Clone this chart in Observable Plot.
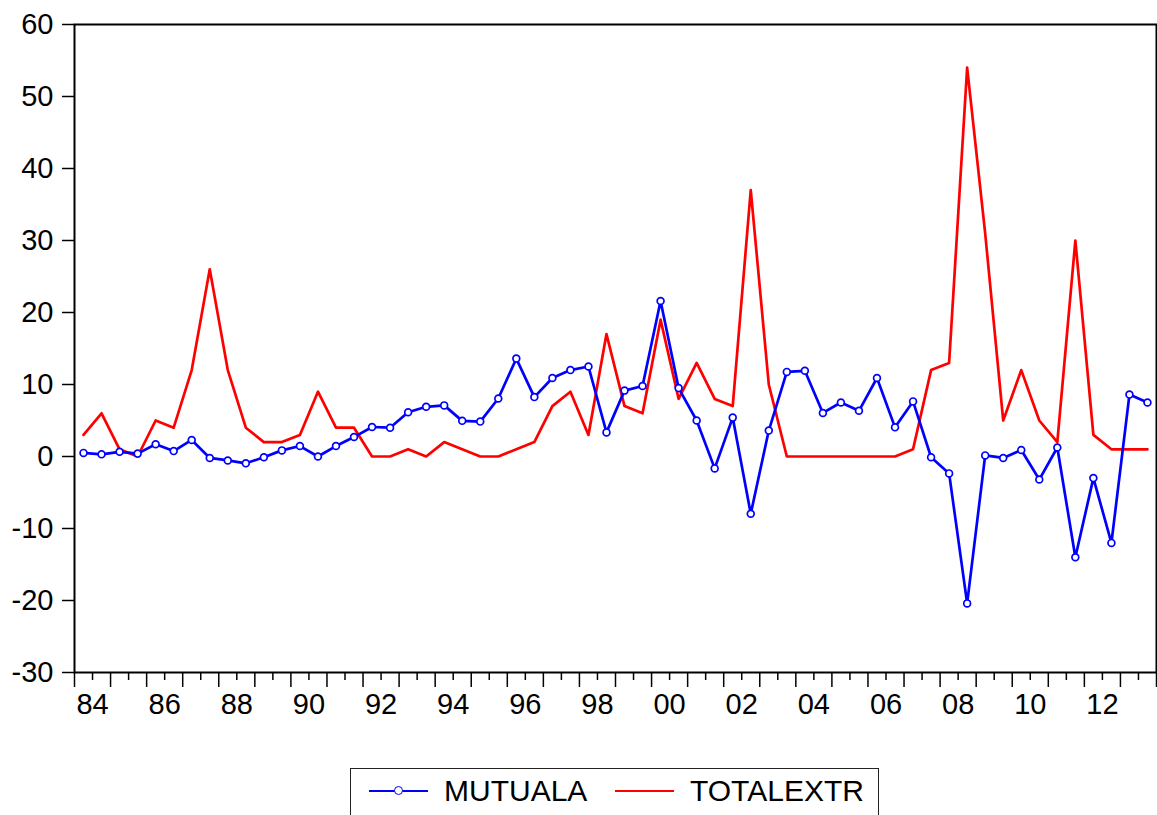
<!DOCTYPE html>
<html><head><meta charset="utf-8">
<script src="https://cdn.jsdelivr.net/npm/d3@7"></script>
<script src="https://cdn.jsdelivr.net/npm/@observablehq/plot@0.6"></script>
<style>
body{margin:0;background:#fff;font-family:"Liberation Sans",Arial,sans-serif;}
#wrap{position:relative;width:1157px;height:815px;overflow:hidden;background:#fff;}
#legend{position:absolute;left:350px;top:768px;width:529px;height:50px;border:1.5px solid #222;box-sizing:border-box;background:#fff;}
.sym{position:absolute;height:0;border-top:2.5px solid;top:21px;width:59px;}
.dotsym{position:absolute;width:7px;height:7px;border:1.6px solid #0000ff;border-radius:50%;background:#fff;top:17px;}
.lab{position:absolute;top:4px;font-size:30px;line-height:36px;color:#000;}
</style></head>
<body><div id="wrap"><div id="chart"></div>
<div id="legend">
  <div class="sym" style="left:18px;border-color:#0000ff"></div>
  <div class="dotsym" style="left:43px"></div>
  <div class="lab" style="left:93px">MUTUALA</div>
  <div class="sym" style="left:264px;border-color:#ff0000"></div>
  <div class="lab" style="left:339px">TOTALEXTR</div>
</div></div>
<script>
const periods = [
"1984S1","1984S2","1985S1","1985S2","1986S1","1986S2","1987S1","1987S2","1988S1","1988S2",
"1989S1","1989S2","1990S1","1990S2","1991S1","1991S2","1992S1","1992S2","1993S1","1993S2",
"1994S1","1994S2","1995S1","1995S2","1996S1","1996S2","1997S1","1997S2","1998S1","1998S2",
"1999S1","1999S2","2000S1","2000S2","2001S1","2001S2","2002S1","2002S2","2003S1","2003S2",
"2004S1","2004S2","2005S1","2005S2","2006S1","2006S2","2007S1","2007S2","2008S1","2008S2",
"2009S1","2009S2","2010S1","2010S2","2011S1","2011S2","2012S1","2012S2","2013S1","2013S2"];
const mutuala = [
0.5,0.3, 0.65,0.4, 1.7,0.75, 2.3,-0.2, -0.55,-0.95,
-0.1,0.85, 1.45,0, 1.45,2.7, 4.1,4.0, 6.15,6.9,
7.1,4.95, 4.85,8.05, 13.6,8.25, 10.9,12.0, 12.5,3.35,
9.15,9.8, 21.6,9.5, 5.0,-1.65, 5.4,-7.95, 3.6,11.75,
11.9,6.05, 7.5,6.35, 10.9,4.05, 7.65,-0.1, -2.35,-20.4,
0.15,-0.2, 0.9,-3.2, 1.25,-14.0, -3.0,-12.0, 8.6,7.5];
const totalextr = [
3,6, 1,0, 5,4, 12,26, 12,4,
2,2, 3,9, 4,4, 0,0, 1,0,
2,1, 0,0, 1,2, 7,9, 3,17,
7,6, 19,8, 13,8, 7,37, 10,0,
0,0, 0,0, 0,0, 1,12, 13,54,
31,5, 12,5, 2,30, 3,1, 1,1];
const yTicks = [-30,-20,-10,0,10,20,30,40,50,60];
const xLabelYears = [1984,1986,1988,1990,1992,1994,1996,1998,2000,2002,2004,2006,2008,2010,2012];
const xLabels = ["84","86","88","90","92","94","96","98","00","02","04","06","08","10","12"];

const toX = p => { const [y, h] = p.split("S"); return +y + (h === "1" ? 0.25 : 0.75); };
const rows = periods.map((p, i) => ({x: toX(p), m: mutuala[i], e: totalextr[i]}));
const yearTicks = d3.range(1984, 2015);
const halfTicks = d3.range(1984.5, 2014, 1);
const labelMap = new Map(xLabelYears.map((y, i) => [y + 0.5, xLabels[i]]));

const chart = Plot.plot({
  width: 1157, height: 740,
  marginLeft: 74, marginRight: 1, marginTop: 24, marginBottom: 68,
  style: {fontFamily: "Liberation Sans, Arial, sans-serif", fontSize: "29px", color: "#000", background: "#fff"},
  x: {domain: [1984, 2014]},
  y: {domain: [-30, 60]},
  marks: [
    Plot.axisY({ticks: yTicks, tickSize: 12, tickPadding: 9, tickFormat: d => String(d), label: null, strokeWidth: 1.5, fontSize: 29}),
    Plot.axisX({ticks: yearTicks, tickSize: 15, tickFormat: () => "", label: null, strokeWidth: 1.5}),
    Plot.axisX({ticks: halfTicks, tickSize: 8, tickFormat: () => "", label: null, strokeWidth: 1.5}),
    Plot.axisX({ticks: xLabelYears.map(y => y + 0.5), tickSize: 0, tickPadding: 21, tickFormat: d => labelMap.get(d), label: null, fontSize: 29}),
    Plot.line(rows, {x: "x", y: "e", stroke: "#ff0000", strokeWidth: 2.7}),
    Plot.line(rows, {x: "x", y: "m", stroke: "#0000ff", strokeWidth: 2.7}),
    Plot.dot(rows, {x: "x", y: "m", r: 3.4, stroke: "#0000ff", fill: "#fff", strokeWidth: 1.7}),
    Plot.frame({stroke: "#000", strokeWidth: 2})
  ]
});
document.getElementById("chart").appendChild(chart);
</script>
</body></html>
